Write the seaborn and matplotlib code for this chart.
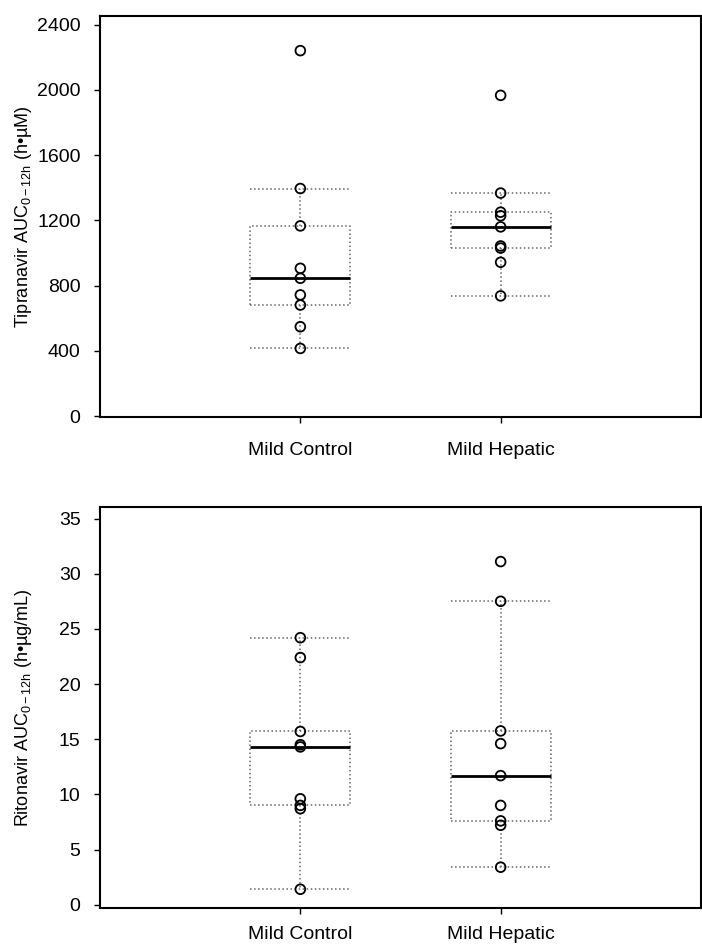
import matplotlib
matplotlib.use("Agg")
import matplotlib.pyplot as plt
import seaborn as sns
import pandas as pd

# values (9 subjects per group)
groups = ["Mild Control", "Mild Hepatic"]
tpv_control = [415, 548, 681, 743, 845, 906, 1166, 1395, 2240]
tpv_hepatic = [737, 943, 1030, 1043, 1160, 1228, 1250, 1367, 1966]
rtv_control = [1.4, 8.7, 9.0, 9.6, 14.3, 14.5, 15.7, 22.4, 24.2]
rtv_hepatic = [3.4, 7.2, 7.6, 9.0, 11.7, 14.6, 15.75, 27.5, 31.1]

tpv_ticks = [0, 400, 800, 1200, 1600, 2000, 2400]
rtv_ticks = [0, 5, 10, 15, 20, 25, 30, 35]

sns.set_style("white")
plt.rcParams["font.family"] = ["Liberation Sans", "DejaVu Sans"]
plt.rcParams["mathtext.fontset"] = "custom"
plt.rcParams["mathtext.rm"] = "Liberation Sans"
plt.rcParams["mathtext.it"] = "Liberation Sans:italic"
plt.rcParams["text.color"] = "black"
plt.rcParams["axes.labelcolor"] = "black"
plt.rcParams["xtick.color"] = "black"
plt.rcParams["ytick.color"] = "black"


def make_df(ctrl, hep):
    return pd.DataFrame({
        "group": [groups[0]] * len(ctrl) + [groups[1]] * len(hep),
        "value": list(ctrl) + list(hep),
    })


def draw_panel(ax, df, ticks, ylim, ylabel, xpad):
    line = dict(color="#666666", linestyle=":", linewidth=1.1)
    sns.boxplot(data=df, x="group", y="value", order=groups, ax=ax,
                width=0.5, whis=1.5, fill=False, showfliers=False,
                capwidths=0.5,
                boxprops=line, whiskerprops=line, capprops=line,
                medianprops=dict(color="black", linestyle="-", linewidth=2))
    sns.stripplot(data=df, x="group", y="value", order=groups, ax=ax,
                  jitter=False, size=7, marker="o", facecolors="none",
                  edgecolor="black", linewidth=1.3, color="black")
    ax.set_xlim(-1, 2)
    ax.set_ylim(*ylim)
    ax.set_yticks(ticks)
    ax.set_yticklabels([str(t) for t in ticks])
    ax.set_xlabel("")
    ax.set_ylabel(ylabel, fontsize=13)
    ax.yaxis.set_label_coords(-0.11, 0.5)
    ax.tick_params(axis="both", labelsize=14, length=4, width=1,
                   direction="out", left=True, bottom=True)
    ax.tick_params(axis="x", pad=xpad)
    ax.tick_params(axis="y", pad=10)
    for s in ax.spines.values():
        s.set_visible(True)
        s.set_color("black")
        s.set_linewidth(1.5)


fig = plt.figure(figsize=(7.02, 9.44), dpi=100)
ax1 = fig.add_axes([0.1425, 0.5583, 0.856, 0.4247])
ax2 = fig.add_axes([0.1425, 0.0381, 0.856, 0.4243])

draw_panel(ax1, make_df(tpv_control, tpv_hepatic), tpv_ticks, (-5, 2452),
           r"Tipranavir AUC$_{\mathrm{0-12h}}$ (h•µM)", 14)
draw_panel(ax2, make_df(rtv_control, rtv_hepatic), rtv_ticks, (-0.3, 36.0),
           r"Ritonavir AUC$_{\mathrm{0-12h}}$ (h•µg/mL)", 9)

fig.savefig("out.png", dpi=100, facecolor="white")
